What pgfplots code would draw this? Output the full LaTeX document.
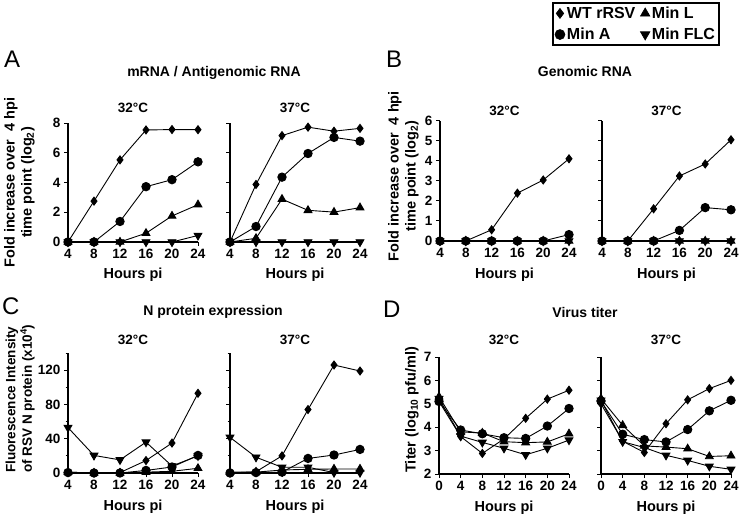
\documentclass[border=0pt]{standalone}
\usepackage{pgfplots}
\pgfplotsset{compat=1.18}
\usepackage{fontspec}
\setmainfont{Liberation Sans}

\pgfplotsset{
  base/.style={
    scale only axis, width=130pt,
    axis x line*=bottom, axis y line*=left,
    axis line style={line width=1.2pt},
    tick style={black, line width=1pt},
    major tick length=4pt, minor tick length=2.5pt,
    tick align=outside,
    enlargelimits=false, clip=false,
    tick label style={font=\fontsize{13.5}{13.5}\selectfont\bfseries},
    /pgf/number format/assume math mode=true,
    label style={font=\fontsize{14.5}{17}\selectfont\bfseries, inner sep=0pt, align=center},
    title style={font=\fontsize{13.5}{13.5}\selectfont\bfseries, at={(axis description cs:0.5,1)}, anchor=base, inner sep=0pt},
    xlabel={Hours pi},
    xlabel style={at={(axis description cs:0.5,0)}, anchor=base, yshift=-37pt},
  },
  wt/.style={black, line width=0.9pt, mark=diamond*, mark size=4pt},
  ma/.style={black, line width=0.9pt, mark=*, mark size=4.2pt},
  ml/.style={black, line width=0.9pt, mark=triangle*, mark size=4.5pt},
  mf/.style={black, line width=0.9pt, mark=triangle*, mark size=4.5pt, mark options={rotate=180}},
}

\begin{document}
\begin{tikzpicture}
\useasboundingbox (0,0) rectangle (741pt,517pt);

% panel letters and titles
\node[anchor=base west, font=\fontsize{24}{24}\selectfont, inner sep=0pt] at (4pt,449pt) {A};
\node[anchor=base west, font=\fontsize{24}{24}\selectfont, inner sep=0pt] at (386pt,449pt) {B};
\node[anchor=base west, font=\fontsize{24}{24}\selectfont, inner sep=0pt] at (2pt,202pt) {C};
\node[anchor=base west, font=\fontsize{24}{24}\selectfont, inner sep=0pt] at (383pt,200pt) {D};
\node[anchor=base, font=\fontsize{14}{14}\selectfont\bfseries, inner sep=0pt] at (214pt,440pt) {mRNA / Antigenomic RNA};
\node[anchor=base, font=\fontsize{14}{14}\selectfont\bfseries, inner sep=0pt] at (585pt,440pt) {Genomic RNA};
\node[anchor=base, font=\fontsize{14}{14}\selectfont\bfseries, inner sep=0pt] at (213pt,201pt) {N protein expression};
\node[anchor=base, font=\fontsize{14}{14}\selectfont\bfseries, inner sep=0pt] at (585pt,200pt) {Virus titer};

% ---------- A 32 ----------
\begin{axis}[base, at={(68pt,275pt)}, anchor=south west, height=119pt,
  xmin=4, xmax=24, ymin=0, ymax=8, xtick={4,8,...,24}, ytick={0,2,...,8},
  title={32°C}, title style={yshift=5pt},
  ylabel={Fold increase over \ 4 hpi\\time point (log\textsubscript{2})},
  ylabel style={at={(axis description cs:-0.254,0.5)}, anchor=south},
  legend columns=2,
  legend style={at={(axis description cs:5.015,2.017)}, anchor=north east,
    draw=black, line width=1.8pt, font=\fontsize{16}{16}\selectfont\bfseries,
    inner sep=2pt, row sep=4pt, /tikz/every even column/.append style={column sep=3pt}},
  legend cell align=left,
  legend image post style={line width=0.6pt},
]
\addlegendimage{only marks, black, mark=diamond*, mark size=5pt}
\addlegendimage{only marks, black, mark=triangle*, mark size=5.5pt}
\addlegendimage{only marks, black, mark=*, mark size=5pt}
\addlegendimage{only marks, black, mark=triangle*, mark size=5.5pt, mark options={rotate=180}}
\legend{WT rRSV, Min L, Min A, Min FLC}
\addplot[wt, forget plot] coordinates {(4,0)(8,2.75)(12,5.52)(16,7.53)(20,7.56)(24,7.55)};
\addplot[ma, forget plot] coordinates {(4,0)(8,0)(12,1.38)(16,3.72)(20,4.19)(24,5.39)};
\addplot[ml, forget plot] coordinates {(4,0)(8,0)(12,0)(16,0.59)(20,1.75)(24,2.51)};
\addplot[mf, forget plot] coordinates {(4,0)(8,0)(12,0)(16,0)(20,0)(24,0.44)};
\end{axis}

% ---------- A 37 ----------
\begin{axis}[base, at={(230pt,275pt)}, anchor=south west, height=119pt,
  xmin=4, xmax=24, ymin=0, ymax=8, xtick={4,8,...,24}, ytick={0,2,...,8}, yticklabels={},
  title={37°C}, title style={yshift=5pt},
]
\addplot[wt] coordinates {(4,0)(8,3.87)(12,7.15)(16,7.72)(20,7.45)(24,7.64)};
\addplot[ma] coordinates {(4,0)(8,1.04)(12,4.36)(16,5.95)(20,7.03)(24,6.78)};
\addplot[ml] coordinates {(4,0)(8,0.25)(12,2.88)(16,2.13)(20,2.01)(24,2.31)};
\addplot[mf] coordinates {(4,0)(8,0)(12,0)(16,0)(20,0)(24,0)};
\end{axis}

% ---------- B 32 ----------
\begin{axis}[base, at={(440pt,276pt)}, anchor=south west, height=120pt, width=129pt,
  xmin=4, xmax=24, ymin=0, ymax=6, xtick={4,8,...,24}, ytick={0,1,...,6},
  title={32°C}, title style={yshift=-1pt},
  ylabel={Fold increase over \ 4 hpi\\time point (log\textsubscript{2})},
  ylabel style={at={(axis description cs:-0.163,0.54)}, anchor=south},
]
\addplot[wt] coordinates {(4,0)(8,0)(12,0.56)(16,2.39)(20,3.05)(24,4.11)};
\addplot[ma] coordinates {(4,0)(8,0)(12,0)(16,0)(20,0)(24,0.32)};
\addplot[ml] coordinates {(4,0)(8,0)(12,0)(16,0)(20,0)(24,0)};
\addplot[mf] coordinates {(4,0)(8,0)(12,0)(16,0)(20,0)(24,0)};
\end{axis}

% ---------- B 37 ----------
\begin{axis}[base, at={(602pt,276pt)}, anchor=south west, height=120pt, width=129pt,
  xmin=4, xmax=24, ymin=0, ymax=6, xtick={4,8,...,24}, ytick={0,1,...,6}, yticklabels={},
  title={37°C}, title style={yshift=-1pt},
]
\addplot[wt] coordinates {(4,0)(8,0)(12,1.61)(16,3.25)(20,3.85)(24,5.06)};
\addplot[ma] coordinates {(4,0)(8,0)(12,0)(16,0.53)(20,1.67)(24,1.56)};
\addplot[ml] coordinates {(4,0)(8,0)(12,0)(16,0)(20,0)(24,0)};
\addplot[mf] coordinates {(4,0)(8,0)(12,0)(16,0)(20,0)(24,0)};
\end{axis}

% ---------- C 32 ----------
\begin{axis}[base, at={(68pt,44pt)}, anchor=south west, height=120pt,
  xmin=4, xmax=24, ymin=0, ymax=140, xtick={4,8,...,24}, ytick={0,40,80,120},
  minor ytick={20,60,100,140},
  title={32°C}, title style={yshift=3pt},
  ylabel={Fluorescence Intensity\\of RSV N protein (x10\textsuperscript{4})},
  ylabel style={at={(axis description cs:-0.254,0)}, anchor=south west, align=left,
    font=\fontsize{13.5}{16.5}\selectfont\bfseries},
]
\addplot[wt] coordinates {(4,1)(8,0)(12,0.5)(16,14.5)(20,35)(24,93)};
\addplot[ma] coordinates {(4,0.5)(8,0)(12,0)(16,3)(20,7)(24,20.5)};
\addplot[ml] coordinates {(4,1)(8,0)(12,0)(16,1)(20,2)(24,5.5)};
\addplot[mf] coordinates {(4,53)(8,20.5)(12,15.3)(16,36)(20,8.2)(24,20)};
\end{axis}

% ---------- C 37 ----------
\begin{axis}[base, at={(230pt,44pt)}, anchor=south west, height=120pt,
  xmin=4, xmax=24, ymin=0, ymax=140, xtick={4,8,...,24}, ytick={0,40,80,120}, yticklabels={},
  minor ytick={20,60,100,140},
  title={37°C}, title style={yshift=3pt},
]
\addplot[wt] coordinates {(4,0)(8,1.5)(12,20)(16,74)(20,126)(24,119)};
\addplot[ma] coordinates {(4,0)(8,0.5)(12,1)(16,17)(20,21)(24,27.5)};
\addplot[ml] coordinates {(4,1)(8,1)(12,3.5)(16,4.3)(20,4.7)(24,4.7)};
\addplot[mf] coordinates {(4,41.6)(8,18.4)(12,6.7)(16,6.7)(20,0.5)(24,0.5)};
\end{axis}

% ---------- D 32 ----------
\begin{axis}[base, at={(439pt,43pt)}, anchor=south west, height=117pt,
  xmin=0, xmax=24, ymin=2, ymax=7, xtick={0,4,...,24}, ytick={2,3,...,7},
  title={32°C}, title style={yshift=7pt},
  ylabel={Titer (log\textsubscript{10} pfu/ml)},
  ylabel style={at={(axis description cs:-0.154,0.55)}, anchor=south},
]
\addplot[wt] coordinates {(0,5.1)(4,3.6)(8,2.88)(12,3.5)(16,4.38)(20,5.2)(24,5.58)};
\addplot[ma] coordinates {(0,5.1)(4,3.88)(8,3.72)(12,3.55)(16,3.52)(20,4.05)(24,4.8)};
\addplot[ml] coordinates {(0,5.3)(4,3.8)(8,3.75)(12,3.38)(16,3.34)(20,3.37)(24,3.72)};
\addplot[mf] coordinates {(0,5.22)(4,3.62)(8,3.35)(12,3.1)(16,2.82)(20,3.1)(24,3.45)};
\end{axis}

% ---------- D 37 ----------
\begin{axis}[base, at={(601pt,43pt)}, anchor=south west, height=117pt,
  xmin=0, xmax=24, ymin=2, ymax=7, xtick={0,4,...,24}, ytick={2,3,...,7}, yticklabels={},
  title={37°C}, title style={yshift=7pt},
]
\addplot[wt] coordinates {(0,5.0)(4,3.4)(8,2.92)(12,4.15)(16,5.17)(20,5.65)(24,6.0)};
\addplot[ma] coordinates {(0,5.12)(4,3.7)(8,3.47)(12,3.37)(16,3.9)(20,4.7)(24,5.15)};
\addplot[ml] coordinates {(0,5.22)(4,4.08)(8,3.2)(12,3.15)(16,3.08)(20,2.75)(24,2.78)};
\addplot[mf] coordinates {(0,5.15)(4,3.38)(8,3.13)(12,2.8)(16,2.58)(20,2.33)(24,2.2)};
\end{axis}
\end{tikzpicture}
\end{document}
